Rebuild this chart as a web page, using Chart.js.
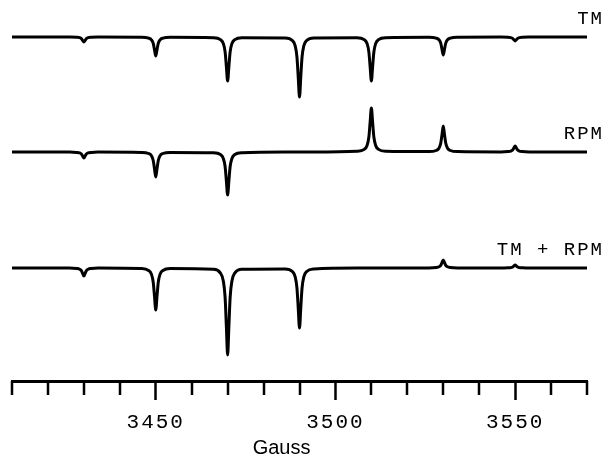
<!DOCTYPE html>
<html>
<head>
<meta charset="utf-8">
<script src="https://cdn.jsdelivr.net/npm/chart.js@4"></script>
<style>
  html, body { margin: 0; padding: 0; background: #fff; }
  #wrap { width: 605px; height: 458px; }
</style>
</head>
<body>
<div id="wrap"><canvas id="c" width="605" height="458"></canvas></div>
<script>
// ---- data ----
// magnetic field sample positions (Gauss)
const FIELD = [
  3410,
  3426, 3428, 3428.8, 3429.3, 3429.65, 3430, 3430.35, 3430.7, 3431.2, 3432, 3434,
  3446, 3448, 3448.8, 3449.3, 3449.65, 3450, 3450.35, 3450.7, 3451.2, 3452, 3454,
  3466, 3468, 3468.8, 3469.3, 3469.65, 3470, 3470.35, 3470.7, 3471.2, 3472, 3474,
  3486, 3488, 3488.8, 3489.3, 3489.65, 3490, 3490.35, 3490.7, 3491.2, 3492, 3494,
  3506, 3508, 3508.8, 3509.3, 3509.65, 3510, 3510.35, 3510.7, 3511.2, 3512, 3514,
  3526, 3528, 3528.8, 3529.3, 3529.65, 3530, 3530.35, 3530.7, 3531.2, 3532, 3534,
  3546, 3548, 3548.8, 3549.3, 3549.65, 3550, 3550.35, 3550.7, 3551.2, 3552, 3554,
  3570
];
// signal intensity (arbitrary units), 0 = baseline, negative = downward line
const TM = [
  0,
  -0.1, -0.3, -0.7, -1.7, -3.4, -5, -3.4, -1.7, -0.7, -0.3, -0.1,
  -0.3, -1.1, -2.8, -6.4, -12.7, -19, -12.7, -6.4, -2.8, -1.1, -0.3,
  -0.7, -2.6, -6.5, -14.9, -29.5, -44, -29.5, -14.9, -6.5, -2.6, -0.7,
  -0.9, -3.5, -8.9, -20.3, -40.3, -60, -40.3, -20.3, -8.9, -3.5, -0.9,
  -0.7, -2.6, -6.5, -14.9, -29.5, -44, -29.5, -14.9, -6.5, -2.6, -0.7,
  -0.3, -1.1, -2.7, -6.1, -12.1, -18, -12.1, -6.1, -2.7, -1.1, -0.3,
  -0.1, -0.2, -0.6, -1.4, -2.7, -4, -2.7, -1.4, -0.6, -0.2, -0.1,
  0
];
const RPM = [
  0,
  -0.1, -0.4, -0.9, -2, -4, -6, -4, -2, -0.9, -0.4, -0.1,
  -0.4, -1.5, -3.7, -8.5, -16.8, -25, -16.8, -8.5, -3.7, -1.5, -0.4,
  -0.7, -2.5, -6.4, -14.5, -28.9, -43, -28.9, -14.5, -6.4, -2.5, -0.7,
  0, 0, 0, 0, 0, 0, 0, 0, 0, 0, 0,
  0.7, 2.6, 6.5, 14.9, 29.5, 44, 29.5, 14.9, 6.5, 2.6, 0.7,
  0.4, 1.5, 3.8, 8.8, 17.4, 26, 17.4, 8.8, 3.8, 1.5, 0.4,
  0.1, 0.4, 0.9, 2, 4, 6, 4, 2, 0.9, 0.4, 0.1,
  0
];
const TM_RPM = [
  0,
  -0.1, -0.5, -1.2, -2.7, -5.4, -8, -5.4, -2.7, -1.2, -0.5, -0.1,
  -0.6, -2.5, -6.2, -14.2, -28.2, -42, -28.2, -14.2, -6.2, -2.5, -0.6,
  -1.3, -5.1, -12.9, -29.4, -58.4, -87, -58.4, -29.4, -12.9, -5.1, -1.3,
  -0.9, -3.5, -8.9, -20.3, -40.3, -60, -40.3, -20.3, -8.9, -3.5, -0.9,
  0, 0, 0, 0, 0, 0, 0, 0, 0, 0, 0,
  0.1, 0.5, 1.2, 2.7, 5.4, 8, 5.4, 2.7, 1.2, 0.5, 0.1,
  0, 0.2, 0.4, 1, 2, 3, 2, 1, 0.4, 0.2, 0,
  0
];
const SERIES_NAMES = ['TM', 'RPM', 'TM + RPM'];
const TICK_LABELS = [3450, 3500, 3550];
const X_TITLE = 'Gauss';

// ---- presentation settings ----
const X_MIN = 3410, X_MAX = 3570, X_STEP = 10;
const X_TITLE_AT = 3485;
const MONO = '"Liberation Mono", "DejaVu Sans Mono", monospace';

function pts(ys) { return FIELD.map((x, i) => ({ x: x, y: ys[i] })); }

const lineStyle = {
  borderColor: '#000', borderWidth: 3, pointRadius: 0,
  fill: false, cubicInterpolationMode: 'monotone'
};

const decorations = {
  id: 'decorations',
  beforeDraw(chart) { chart.ctx.letterSpacing = '2px'; },
  afterDraw(chart) {
    const ctx = chart.ctx;
    const xs = chart.scales.x;
    ctx.save();
    ctx.letterSpacing = '0px';
    // minor ticks (shorter than the labelled ones)
    ctx.strokeStyle = '#000';
    ctx.lineWidth = 2.5;
    ctx.beginPath();
    xs.ticks.forEach(t => {
      if (TICK_LABELS.includes(t.value)) return;
      const px = Math.round(xs.getPixelForValue(t.value));
      ctx.moveTo(px, xs.top);
      ctx.lineTo(px, xs.top + 14);
    });
    ctx.stroke();
    // series labels
    ctx.fillStyle = '#000';
    ctx.font = '19px ' + MONO;
    ctx.letterSpacing = '2px';
    ctx.textAlign = 'right';
    ctx.textBaseline = 'alphabetic';
    ['yTM', 'yRPM', 'ySUM'].forEach((id, i) => {
      const y = chart.scales[id].getPixelForValue(0) - 13;
      ctx.fillText(SERIES_NAMES[i], chart.width - 1, y);
    });
    // axis title
    ctx.letterSpacing = '0px';
    ctx.font = '20px "Liberation Sans", Arial, sans-serif';
    ctx.textAlign = 'center';
    ctx.fillText(X_TITLE, xs.getPixelForValue(X_TITLE_AT), chart.height - 4);
    ctx.restore();
    chart.ctx.letterSpacing = '0px';
  }
};

new Chart(document.getElementById('c'), {
  type: 'line',
  data: {
    datasets: [
      Object.assign({ label: SERIES_NAMES[0], data: pts(TM), yAxisID: 'yTM' }, lineStyle),
      Object.assign({ label: SERIES_NAMES[1], data: pts(RPM), yAxisID: 'yRPM' }, lineStyle),
      Object.assign({ label: SERIES_NAMES[2], data: pts(TM_RPM), yAxisID: 'ySUM' }, lineStyle)
    ]
  },
  options: {
    responsive: false,
    animation: false,
    events: [],
    layout: { padding: { left: 12, right: 18, top: 0, bottom: 0 } },
    plugins: { legend: { display: false }, tooltip: { enabled: false } },
    scales: {
      x: {
        type: 'linear', position: 'bottom', min: X_MIN, max: X_MAX,
        afterFit(scale) { scale.height = 77; },
        ticks: {
          stepSize: X_STEP, autoSkip: false, maxRotation: 0, padding: 10,
          color: '#000', font: { family: MONO, size: 21 },
          callback: v => TICK_LABELS.includes(v) ? String(v) : ''
        },
        grid: {
          drawOnChartArea: false, drawTicks: true, tickLength: 19,
          tickWidth: 2.5,
          tickColor: c => (c.tick && TICK_LABELS.includes(c.tick.value)) ? '#000' : 'rgba(0,0,0,0)'
        },
        border: { display: true, color: '#000', width: 3 }
      },
      yTM:  { display: false, min: -344, max: 37 },
      yRPM: { display: false, min: -229, max: 152 },
      ySUM: { display: false, min: -113, max: 268 }
    }
  },
  plugins: [decorations]
});
</script>
</body>
</html>
